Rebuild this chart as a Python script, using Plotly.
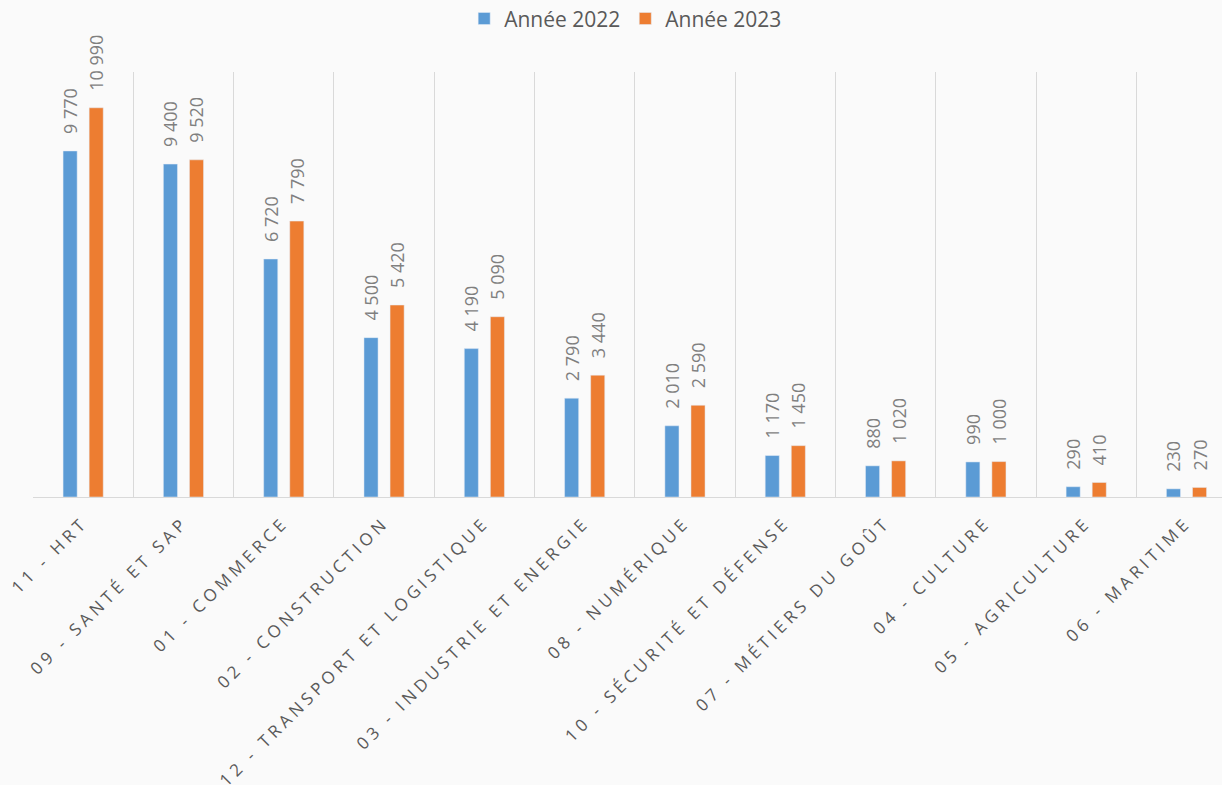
import plotly.graph_objects as go

categories = [
    "11 - HRT", "09 - SANTÉ ET SAP", "01 - COMMERCE", "02 - CONSTRUCTION",
    "12 - TRANSPORT ET LOGISTIQUE", "03 - INDUSTRIE ET ENERGIE", "08 - NUMÉRIQUE",
    "10 - SÉCURITÉ ET DÉFENSE", "07 - MÉTIERS DU GOÛT", "04 - CULTURE",
    "05 - AGRICULTURE", "06 - MARITIME",
]
values_2022 = [9770, 9400, 6720, 4500, 4190, 2790, 2010, 1170, 880, 990, 290, 230]
values_2023 = [10990, 9520, 7790, 5420, 5090, 3440, 2590, 1450, 1020, 1000, 410, 270]
series_names = ["Année 2022", "Année 2023"]
colors = ["#5B9BD5", "#ED7D31"]

fig = go.Figure()
for name, vals, col in zip(series_names, [values_2022, values_2023], colors):
    fig.add_trace(go.Bar(
        x=categories, y=vals, name=name, marker_color=col,
        texttemplate="\u00a0\u00a0\u00a0%{y:,}", textposition="outside", textangle=-90,
        textfont=dict(color="#7f7f7f", size=18, family="Open Sans"),
        constraintext="none", cliponaxis=False,
    ))

fig.update_layout(
    width=1222, height=785,
    paper_bgcolor="#fafafa", plot_bgcolor="#fafafa",
    barmode="group", bargap=0.48, bargroupgap=0.46,
    separators=", ",
    margin=dict(l=33, r=0, t=72, b=288, autoexpand=False),
    font=dict(family="Open Sans", color="#595959"),
    legend=dict(orientation="h", x=0.512, xanchor="center", xref="container",
                y=0.976, yanchor="middle", yref="container",
                font=dict(size=21, color="#595959"), bgcolor="rgba(0,0,0,0)"),
    showlegend=True,
)
fig.update_xaxes(
    type="category", tickson="boundaries", showgrid=True, gridcolor="#d9d9d9", gridwidth=1,
    showline=True, linecolor="#d9d9d9", linewidth=1, ticks="", tickangle=-45,
    range=[-0.5, 11.354], automargin=False, ticklabelstandoff=8,
    tickfont=dict(size=17, color="#595959", family="Open Sans"),
)
fig.update_yaxes(range=[0, 12000], showgrid=False, showticklabels=False, zeroline=False)

post = """
var st = document.createElement('style');
st.innerHTML = 'html, body { margin: 0; padding: 0; } .xtick text { letter-spacing: 4.2px; }';
document.head.appendChild(st);
"""
fig.write_html("out.html", post_script=post, config={"displayModeBar": False})
